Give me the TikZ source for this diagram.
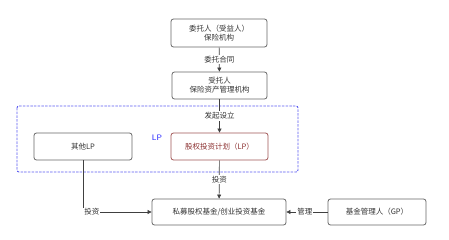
\documentclass[tikz,border=0pt]{standalone}
\usepackage{fontspec}
\newfontfamily\cjk{Noto Sans CJK SC}
\usetikzlibrary{arrows.meta}
\definecolor{boxgray}{HTML}{666666}
\definecolor{lpred}{HTML}{A05555}
\definecolor{lptext}{HTML}{8B3030}
\definecolor{dashblue}{HTML}{5A5AF0}
\begin{document}
\begin{tikzpicture}[x=1pt,y=-1pt,
  every node/.style={font=\cjk\fontsize{7.5}{9}\selectfont, text=black!80},
  box/.style={draw=boxgray, line width=0.8pt, rounded corners=2.5pt, minimum height=27pt, align=center, inner sep=1pt},
  lbl/.style={fill=white, inner sep=1pt},
  conn/.style={draw=black!75, line width=0.7pt, -{Triangle[length=4pt,width=4pt]}}
]
\useasboundingbox (0,0) rectangle (449,240);
% dashed group
\draw[dashblue, dash pattern=on 2.5pt off 1.2pt, line width=0.9pt, rounded corners=2pt] (17,106) rectangle (298,172);
\node[box, minimum width=96pt, minimum height=28pt] (trustor) at (219,33) {委托人（受益人）\\保险机构};
\node[box, minimum width=95pt] (trustee) at (219.5,85.5) {受托人\\保险资产管理机构};
\node[box, minimum width=98pt] (otherlp) at (83,146.5) {其他LP};
\node[box, draw=lpred, text=lptext, minimum width=97pt] (plan) at (219.5,146.5) {股权投资计划（LP）};
\node[text=blue!85, font=\sffamily\fontsize{8}{9}\selectfont] (lp) at (157,138) {LP};
\node[box, minimum width=134pt, minimum height=26pt] (fund) at (219,212) {私募股权基金/创业投资基金};
\node[box, minimum width=98pt, minimum height=26pt] (gp) at (377,212) {基金管理人（GP）};
\coordinate (corner) at (83,212);
\draw[conn] (trustor) -- node[lbl] {委托合同} (trustee);
\draw[conn] (trustee) -- node[lbl, pos=0.5] {发起设立} (plan);
\draw[conn] (plan) -- node[lbl, pos=0.5] {投资} (fund);
\draw[conn] (otherlp) -- (corner) -- node[lbl, pos=0.13] {投资} (fund);
\draw[conn] (gp) -- node[lbl, pos=0.55] {管理} (fund);
\end{tikzpicture}
\end{document}
